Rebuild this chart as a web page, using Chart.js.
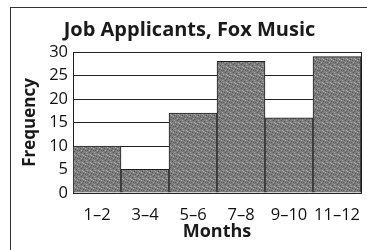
<!DOCTYPE html>
<html lang="en">
<head>
    <meta charset="UTF-8">
    <title>Job Applicants, Fox Music</title>
    <script src="https://cdn.jsdelivr.net/npm/chart.js@4.4.1/dist/chart.umd.min.js"></script>
</head>
<style>
    body { margin: 0; background: #fff; }
    #wrap { position: relative; width: 367px; height: 250px; }
    #frame {
        position: absolute; left: 10px; top: 7px; width: 370px; height: 260px;
        border: 1px solid #333; box-sizing: border-box;
    }
    #myChart { position: absolute; left: 0; top: 0; }
</style>
<body>
    <div id="wrap">
        <div id="frame"></div>
        <canvas id="myChart" width="367" height="250"></canvas>
    </div>
    <script>
        const months = ['1\u20132', '3\u20134', '5\u20136', '7\u20138', '9\u201310', '11\u201312']
        const frequency = [10, 5, 17, 28, 16, 29]
        const yTicks = [0, 5, 10, 15, 20, 25, 30]

        // grey speckled fill like the printed bars
        function makeTexture() {
            let c = document.createElement('canvas')
            c.width = 8; c.height = 8
            let g = c.getContext('2d')
            g.fillStyle = '#7e7e7e'
            g.fillRect(0, 0, 8, 8)
            const dark = [[1,0],[4,1],[6,3],[0,4],[3,5],[5,6],[2,7],[7,6]]
            const light = [[2,2],[6,0],[1,6],[5,4],[7,2],[3,3]]
            g.fillStyle = '#555'
            dark.forEach(p => g.fillRect(p[0], p[1], 1, 1))
            g.fillStyle = '#aaa'
            light.forEach(p => g.fillRect(p[0], p[1], 1, 1))
            return g.createPattern(c, 'repeat')
        }

        const boxPlugin = {
            id: 'box',
            beforeDatasetsDraw(chart) {
                const a = chart.chartArea
                const ctx = chart.ctx
                ctx.save()
                ctx.strokeStyle = '#222'
                ctx.lineWidth = 1
                ctx.strokeRect(Math.round(a.left) + 0.5, Math.round(a.top) + 0.5, Math.round(a.right - a.left), Math.round(a.bottom - a.top))
                ctx.restore()
            }
        }

        const font = "'Open Sans', 'Noto Sans', sans-serif"
        var ctx = document.getElementById('myChart').getContext('2d')
        var myChart = new Chart(ctx, {
            type: 'bar',
            data: {
                labels: months,
                datasets: [{
                    data: frequency,
                    backgroundColor: makeTexture(),
                    borderColor: '#222',
                    borderWidth: 1,
                    barPercentage: 1,
                    categoryPercentage: 1
                }]
            },
            options: {
                responsive: false,
                animation: false,
                layout: { padding: { left: 18, right: 6, top: 0, bottom: 0 } },
                plugins: {
                    legend: { display: false },
                    tooltip: { enabled: false },
                    title: {
                        display: true,
                        text: 'Job Applicants, Fox Music',
                        color: '#1a1a1a',
                        font: { family: font, size: 20, weight: 'bold' },
                        padding: { top: 18, bottom: 10 }
                    }
                },
                scales: {
                    x: {
                        grid: { display: false },
                        border: { display: true, color: '#222' },
                        ticks: {
                            color: '#111', padding: 4, maxRotation: 0, minRotation: 0, autoSkip: false,
                            font: { family: font, size: 16.5 }
                        },
                        title: {
                            display: true, text: 'Months', color: '#1a1a1a',
                            font: { family: font, size: 18, weight: 'bold' },
                            padding: { top: 0, bottom: 7 }
                        },
                        afterFit(scale) { scale.height = 57 }
                    },
                    y: {
                        min: 0, max: 30,
                        afterBuildTicks(scale) { scale.ticks = yTicks.map(v => ({ value: v })) },
                        grid: { color: '#222', drawTicks: false },
                        border: { display: true, color: '#222' },
                        ticks: { color: '#111', padding: 5, font: { family: font, size: 16.5 } },
                        title: {
                            display: true, text: 'Frequency', color: '#1a1a1a',
                            font: { family: font, size: 17, weight: 'bold' },
                            padding: { top: 2, bottom: 0 }
                        },
                        afterFit(scale) { scale.width = 55 }
                    }
                }
            },
            plugins: [boxPlugin]
        })
    </script>
</body>
</html>
